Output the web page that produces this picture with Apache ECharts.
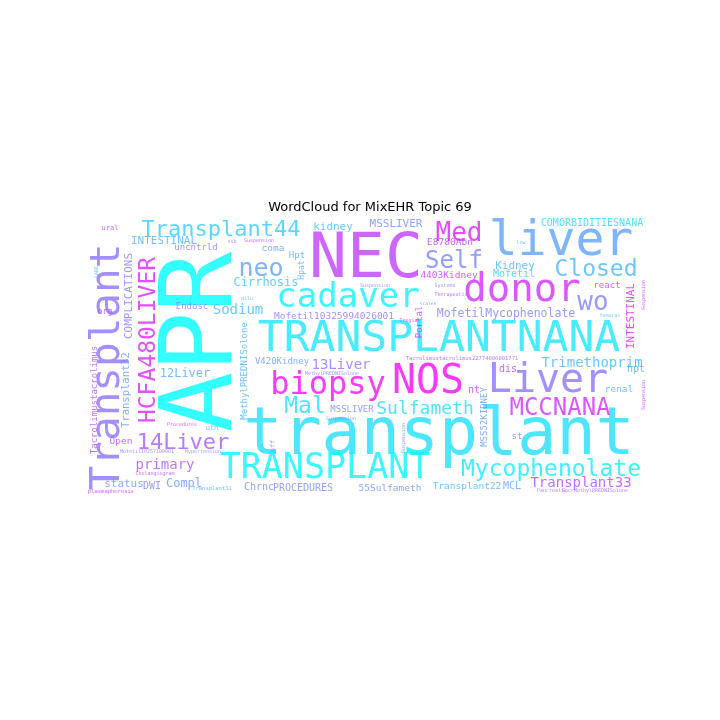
<!DOCTYPE html>
<html>
<head>
<meta charset="utf-8">
<script src="https://cdn.jsdelivr.net/npm/echarts@6/dist/echarts.min.js"></script>
<style>
  html, body { margin: 0; background: #fff; }
  #chart { width: 720px; height: 720px; }
</style>
</head>
<body>
<div id="chart"></div>
<script>
// words of the topic, biggest first
const words = [
  'APR', 'NEC', 'transplant', 'liver', 'TRANSPLANTNANA', 'Transplant', 'NOS', 'Liver',
  'donor', 'TRANSPLANT', 'cadaver', 'biopsy', 'Med', 'wo', 'neo', 'Self',
  'MCCNANA', 'HCFA480LIVER', 'Mycophenolate', 'Closed', 'Mal', 'Transplant44', '14Liver', 'Sulfameth',
  'Trimethoprim', 'Transplant33', '13Liver', 'Sodium', 'primary', '12Liver', 'Cirrhosis', 'Compl',
  'MofetilMycophenolate', 'kidney', 'MSSLIVER', 'INTESTINAL', 'Kidney', 'status', 'COMPLICATIONS', 'INTESTINAL',
  'Transplant32', 'COMORBIDITIESNANA', 'Mofetil', 'PROCEDURES', 'Chrnc', 'MCL', 'DWI', 'hpt',
  'dis', 'nt', 'Mofetil10325994026001', 'Transplant22', '55Sulfameth', 'renal', 'E8780Abn', '4403Kidney',
  'coma', 'Open', 'V420Kidney', 'MSSLIVER', 'uncntrld', 'Hpt', 'Endosc', 'react',
  'st', 'Tacrolimustacrolimus', 'MethylPREDNISolone', 'MSS52KIDNEY', 'Portal', 'Hpat', 'org', 'ural',
  'utn', 'eff', 'Tacrolimustacrolimus22774006001771', 'Procedures', 'Hypertension', 'Cholangiogram', 'Transplant31', 'plasmapheresis',
  'Systems', 'Therapeutic', 'Scales', 'Tregial', 'Suspension', 'Pancreatic', 'SuccMethylPREDNISolone', 'femoral',
  'low', 'dilu', 'MethylPREDNISolone', 'Suspension', 'ssb', 'Suspension', 'Suspension', 'Suspension',
  'Suspension', 'CARE', 'Mofetil10257100001'
];

// relative weight of each word (1 = largest)
const weights = [
  1.00, 0.63, 0.65, 0.48, 0.43, 0.41, 0.40, 0.40,
  0.39, 0.35, 0.34, 0.32, 0.26, 0.26, 0.25, 0.24,
  0.24, 0.23, 0.23, 0.23, 0.23, 0.22, 0.22, 0.18,
  0.14, 0.14, 0.14, 0.14, 0.14, 0.12, 0.12, 0.12,
  0.115, 0.11, 0.11, 0.11, 0.11, 0.11, 0.11, 0.11,
  0.105, 0.10, 0.10, 0.10, 0.10, 0.10, 0.10, 0.10,
  0.10, 0.10, 0.095, 0.095, 0.095, 0.095, 0.095, 0.095,
  0.095, 0.095, 0.09, 0.09, 0.09, 0.09, 0.09, 0.09,
  0.09, 0.09, 0.09, 0.09, 0.09, 0.08, 0.08, 0.07,
  0.07, 0.07, 0.055, 0.05, 0.05, 0.05, 0.055, 0.055,
  0.05, 0.05, 0.045, 0.05, 0.05, 0.05, 0.05, 0.05,
  0.05, 0.05, 0.05, 0.05, 0.05, 0.05, 0.05, 0.05,
  0.05, 0.05, 0.05
];

// position on the "cool" colormap (0 cyan .. 1 magenta)
const tones = [
  0.00, 0.75, 0.12, 0.36, 0.10, 0.55, 0.97, 0.55,
  0.82, 0.03, 0.05, 0.95, 0.88, 0.50, 0.38, 0.48,
  0.82, 0.85, 0.08, 0.28, 0.12, 0.20, 0.65, 0.15,
  0.28, 0.72, 0.55, 0.25, 0.68, 0.35, 0.25, 0.42,
  0.50, 0.25, 0.45, 0.30, 0.28, 0.42, 0.50, 0.85,
  0.40, 0.15, 0.18, 0.45, 0.45, 0.35, 0.50, 0.30,
  0.78, 0.78, 0.55, 0.30, 0.45, 0.30, 0.75, 0.80,
  0.40, 0.72, 0.40, 0.45, 0.55, 0.30, 0.55, 0.75,
  0.50, 0.70, 0.30, 0.40, 0.75, 0.30, 0.72, 0.75,
  0.35, 0.50, 0.62, 0.75, 0.45, 0.75, 0.30, 0.80,
  0.55, 0.70, 0.45, 0.80, 0.50, 0.60, 0.65, 0.30,
  0.30, 0.30, 0.50, 0.45, 0.50, 0.75, 0.80, 0.80,
  0.50, 0.30, 0.55
];

// cloud layout: [x, baseline, vertical]; vertical words give [baseline x, centre y]
const layout = [
  [240, 342, 1], [366, 283, 0], [439, 460, 0], [561, 259, 0], [439, 355, 0], [123, 367, 1], [428, 397, 0], [548, 396, 0],
  [522, 305, 0], [325, 481, 0], [348, 310, 0], [328, 397, 0], [459, 243, 0], [593, 312, 0], [261, 278, 0], [454, 270, 0],
  [560, 417, 0], [157, 340, 1], [551, 478, 0], [596, 278, 0], [305, 415, 0], [221, 238, 0], [183, 451, 0], [425, 416, 0],
  [592, 368, 0], [581, 488, 0], [341, 370, 0], [238, 315, 0], [165, 470, 0], [185, 378, 0], [266, 287, 0], [184, 488, 0],
  [506, 318, 0], [333, 231, 0], [396, 228, 0], [164, 245, 0], [515, 270, 0], [124, 488, 0], [133, 296, 1], [635, 316, 1],
  [130, 390, 1], [592, 227, 0], [514, 278, 0], [303, 492, 0], [259, 491, 0], [512, 490, 0], [152, 490, 0], [636, 373, 0],
  [508, 373, 0], [474, 394, 0], [334, 320, 0], [467, 490, 0], [390, 492, 0], [619, 393, 0], [450, 246, 0], [449, 279, 0],
  [273, 252, 0], [121, 445, 0], [282, 365, 0], [352, 413, 0], [196, 251, 0], [297, 259, 0], [192, 310, 0], [607, 289, 0],
  [517, 440, 0], [98, 400, 1], [248, 371, 1], [488, 417, 1], [423, 322, 1], [305, 270, 1], [105, 315, 0], [110, 231, 0],
  [212, 431, 0], [276, 446, 1], [462, 361, 0], [182, 426, 0], [203, 453, 0], [155, 475, 0], [212, 491, 0], [111, 494, 0],
  [445, 287, 0], [451, 296, 0], [428, 305, 0], [410, 322, 0], [375, 287, 0], [552, 492, 0], [595, 492, 0], [610, 317, 0],
  [521, 244, 0], [247, 300, 0], [332, 375, 0], [341, 420, 0], [232, 243, 0], [259, 242, 0], [645, 295, 1], [645, 395, 1],
  [405, 438, 1], [98, 272, 1], [147, 453, 0]
];

const MAX_FONT = 100;
const MID = 0.35; // distance from baseline to em middle, in em

// matplotlib "cool" colormap
const cool = t => `rgb(${Math.round(255 * t)},${Math.round(255 * (1 - t))},255)`;

const points = words.map((w, i) => {
  const fs = weights[i] * MAX_FONT;
  const [x, y, up] = layout[i];
  return {
    name: w,
    value: up ? [x - MID * fs, y] : [x, y - MID * fs],
    label: { fontSize: fs, color: cool(tones[i]), rotate: up ? 90 : 0 }
  };
});

const chart = echarts.init(document.getElementById('chart'));
chart.setOption({
  backgroundColor: '#fff',
  animation: false,
  title: {
    text: 'WordCloud for MixEHR Topic 69',
    left: 370,
    top: 201,
    padding: 0,
    textAlign: 'center',
    textStyle: { fontFamily: 'DejaVu Sans', fontSize: 13, fontWeight: 'normal', color: '#000' }
  },
  grid: { left: 0, right: 0, top: 0, bottom: 0 },
  xAxis: { type: 'value', min: 0, max: 720, show: false },
  yAxis: { type: 'value', min: 0, max: 720, inverse: true, show: false },
  series: [{
    type: 'scatter',
    symbolSize: 0,
    silent: true,
    data: points,
    label: {
      show: true,
      position: 'inside',
      formatter: p => p.name,
      fontFamily: 'DejaVu Sans Mono',
      align: 'center',
      verticalAlign: 'middle'
    }
  }]
});
</script>
</body>
</html>
